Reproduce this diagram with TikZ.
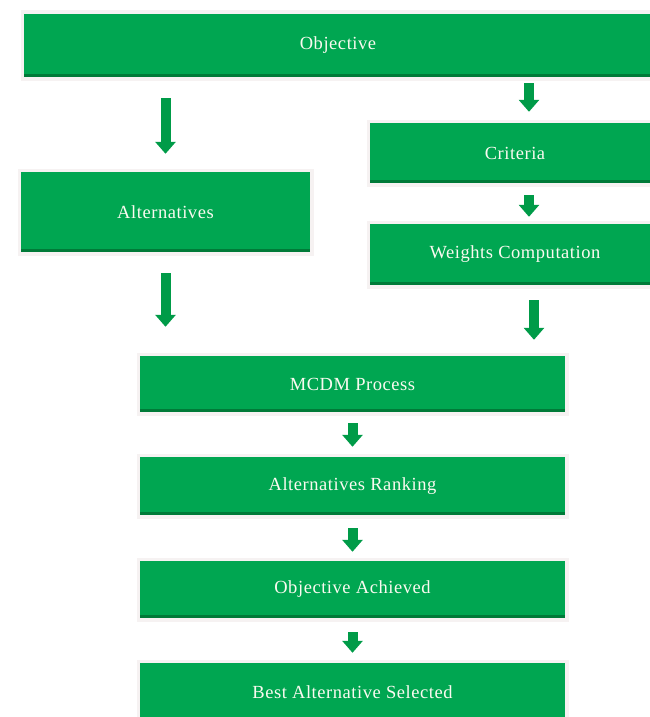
\documentclass[tikz,border=0pt]{standalone}
\usepackage{fontspec}
\setmainfont{Liberation Serif}[LetterSpace=3]
\usetikzlibrary{calc}
\usetikzlibrary{arrows.meta}

\definecolor{boxgreen}{RGB}{0,166,81}
\definecolor{boxdark}{RGB}{0,122,56}
\definecolor{arrowgreen}{RGB}{0,155,72}
\definecolor{halogray}{RGB}{246,242,242}
\definecolor{labelwhite}{RGB}{250,250,240}

\begin{document}
\begin{tikzpicture}[
    x=1pt, y=-1pt,
    every node/.style={font=\fontsize{18.5}{22}\selectfont}
  ]

% Fix the canvas to the size of the original picture (pixel units, y downwards)
\useasboundingbox (0,0) rectangle (650,717);
\clip (0,0) rectangle (650,717);

% Define common styles for the green boxes and the block arrows
\tikzset{greenbox/.style={
    rectangle, fill=boxgreen, text=labelwhite, inner sep=0pt,
    preaction={draw=halogray, line width=7pt}, % faint halo round the box
    path picture={\fill[boxdark] (path picture bounding box.south west)
      rectangle ([yshift=3pt]path picture bounding box.south east);} % darker bottom edge
  },
  flowarrow/.style={
    draw=arrowgreen, line width=10pt,
    -{Triangle[width=20pt, length=12pt]}
  }
}

% Top box, and the two branches below it
\node[greenbox, minimum width=628pt, minimum height=63pt] (obj) at (338, 45.5) {Objective};
\node[greenbox, minimum width=289pt, minimum height=80pt] (alt) at (165.5, 212) {Alternatives};
\node[greenbox, minimum width=290pt, minimum height=60pt] (crit) at (515, 153) {Criteria};
\node[greenbox, minimum width=290pt, minimum height=61pt] (wts) at (515, 254.5) {Weights Computation};

% Main column of boxes
\node[greenbox, minimum width=425pt, minimum height=56pt] (mcdm) at (352.5, 384) {MCDM Process};
\node[greenbox, minimum width=425pt, minimum height=58pt] (rank) at (352.5, 486) {Alternatives Ranking};
\node[greenbox, minimum width=425pt, minimum height=57pt] (ach) at (352.5, 589.5) {Objective Achieved};
\node[greenbox, minimum width=425pt, minimum height=58pt] (best) at (352.5, 692) {Best Alternative Selected};

% Arrows of the left branch
\draw[flowarrow, shorten <=21pt, shorten >=18pt] (obj.south -| alt.north) -- (alt.north);
\draw[flowarrow, shorten <=21pt, shorten >=29pt] (alt.south) -- (alt.south |- mcdm.north);

% Arrows of the right branch (placed a little right of the box centres)
\draw[flowarrow, shorten <=6pt, shorten >=11pt] ($(obj.south -| crit.north)+(14,0)$) -- ($(crit.north)+(14,0)$);
\draw[flowarrow, shorten <=12pt, shorten >=7pt] ($(crit.south)+(14,0)$) -- ($(wts.north)+(14,0)$);
\draw[flowarrow, shorten <=15pt, shorten >=16pt] ($(wts.south)+(19,0)$) -- ($(wts.south |- mcdm.north)+(19,0)$);

% Arrows of the main column
\draw[flowarrow, shorten <=11pt, shorten >=10pt] (mcdm) -- (rank);
\draw[flowarrow, shorten <=13pt, shorten >=9pt] (rank) -- (ach);
\draw[flowarrow, shorten <=14pt, shorten >=10pt] (ach) -- (best);

\end{tikzpicture}
\end{document}
